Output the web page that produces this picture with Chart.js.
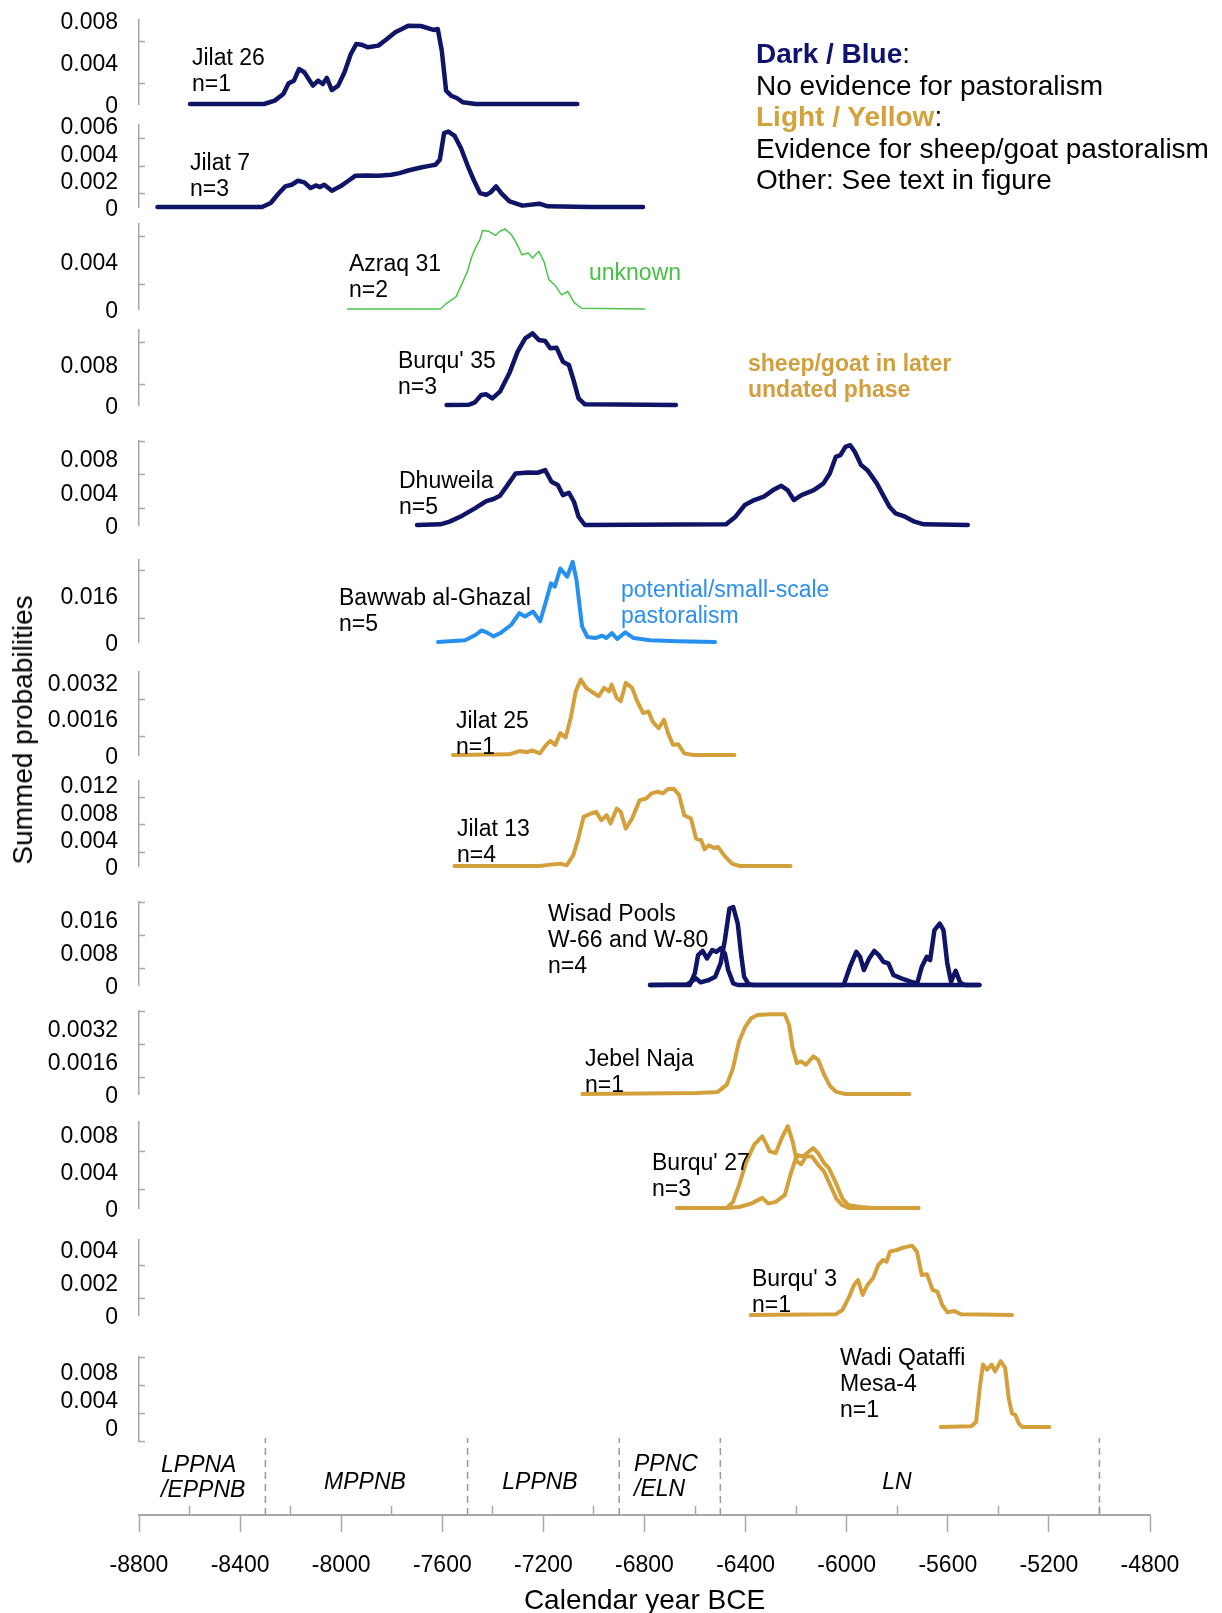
<!DOCTYPE html>
<html>
<head>
<meta charset="utf-8">
<script src="https://cdn.jsdelivr.net/npm/chart.js@4.4.1/dist/chart.umd.min.js"></script>
<style>
    html, body { margin: 0; padding: 0; background: #fff; }
    body { width: 1222px; height: 1613px; position: relative; overflow: hidden; font-family: "Liberation Sans", Arial, sans-serif; color: #000; }
    canvas { position: absolute; left: 0; }
    .lbl { position: absolute; font-size: 23px; line-height: 26px; white-space: nowrap; }
    .period { position: absolute; font-size: 23px; line-height: 25px; font-style: italic; white-space: nowrap; }
    .legend { position: absolute; left: 756px; top: 38px; font-size: 28px; line-height: 31.6px; white-space: nowrap; }
</style>
</head>
<body>

<script>
// ---- summed probability curves (calendar year BCE, probability) ----
const jilat26Years = [-8598, -8305, -8263, -8229, -8208, -8187, -8167, -8146, -8112, -8091, -8073, -8057, -8037, -8012, -7987, -7962, -7940, -7920, -7894, -7853, -7819, -7786, -7760, -7735, -7685, -7635, -7618, -7602, -7585, -7565, -7543, -7518, -7468, -7066];
const jilat26Probs = [0, 0, 0.00032, 0.00095, 0.00197, 0.00222, 0.00333, 0.00302, 0.00175, 0.00222, 0.0019, 0.00248, 0.00133, 0.00175, 0.00302, 0.00476, 0.00572, 0.00565, 0.0054, 0.00556, 0.00619, 0.00683, 0.00714, 0.00746, 0.00743, 0.00705, 0.00714, 0.00508, 0.00127, 0.00079, 0.00057, 0.00016, 0, 0];

const jilat7Years = [-8727, -8313, -8279, -8246, -8221, -8196, -8171, -8146, -8121, -8100, -8084, -8067, -8037, -8003, -7970, -7945, -7903, -7853, -7802, -7769, -7735, -7685, -7652, -7627, -7610, -7593, -7576, -7551, -7526, -7501, -7476, -7451, -7426, -7409, -7387, -7367, -7334, -7283, -7216, -7183, -7016, -6806];
const jilat7Probs = [0, 0, 0.00029, 0.00102, 0.00151, 0.00163, 0.00192, 0.0018, 0.00139, 0.00158, 0.00146, 0.00163, 0.00119, 0.00151, 0.00194, 0.00228, 0.00231, 0.00228, 0.00236, 0.00248, 0.00267, 0.00289, 0.00301, 0.00309, 0.00345, 0.0054, 0.00552, 0.0052, 0.0043, 0.00309, 0.00199, 0.00102, 0.0009, 0.00107, 0.00151, 0.00102, 0.00041, 0.0001, 0.00024, 0.00005, 0, 0];

const azraq31Years = [-7975, -7608, -7583, -7546, -7521, -7501, -7483, -7466, -7451, -7441, -7416, -7389, -7372, -7352, -7327, -7307, -7285, -7260, -7243, -7218, -7198, -7178, -7153, -7128, -7103, -7079, -7049, -6800];
const azraq31Probs = [0, 0, 0.00047, 0.001, 0.00213, 0.00309, 0.00433, 0.00516, 0.00571, 0.00646, 0.0064, 0.00607, 0.0064, 0.0066, 0.00613, 0.00544, 0.00447, 0.00461, 0.0042, 0.00475, 0.00392, 0.0024, 0.00193, 0.00116, 0.00144, 0.00055, 0.00006, 0];

const burqu35Years = [-7583, -7495, -7471, -7446, -7426, -7402, -7372, -7335, -7302, -7272, -7243, -7218, -7193, -7173, -7148, -7123, -7099, -7079, -7061, -7036, -6676];
const burqu35Probs = [0, 0.00005, 0.00051, 0.00192, 0.00205, 0.00128, 0.00256, 0.00608, 0.01024, 0.0128, 0.01376, 0.01248, 0.01229, 0.01088, 0.01101, 0.00832, 0.00768, 0.00448, 0.00128, 0.00013, 0];

const dhuweilaYears = [-7700, -7608, -7571, -7521, -7471, -7426, -7397, -7372, -7342, -7310, -7260, -7223, -7193, -7168, -7143, -7123, -7099, -7079, -7061, -7036, -6477, -6440, -6403, -6366, -6328, -6291, -6259, -6234, -6209, -6179, -6130, -6092, -6067, -6043, -6025, -6005, -5986, -5968, -5943, -5918, -5881, -5856, -5831, -5807, -5769, -5732, -5695, -5521];
const dhuweilaProbs = [0, 0.00008, 0.0004, 0.00111, 0.00198, 0.00285, 0.00309, 0.00348, 0.00475, 0.00614, 0.00626, 0.00622, 0.00653, 0.00515, 0.00475, 0.00356, 0.00384, 0.00277, 0.00099, 0, 0.00008, 0.00099, 0.00238, 0.00297, 0.00337, 0.00416, 0.00467, 0.00416, 0.00297, 0.00356, 0.00416, 0.00495, 0.00614, 0.00812, 0.00832, 0.00931, 0.0095, 0.00871, 0.00713, 0.00653, 0.00495, 0.00356, 0.00218, 0.00139, 0.00099, 0.0004, 0.00008, 0];

const bawwabYears = [-7617, -7510, -7467, -7445, -7424, -7398, -7370, -7327, -7295, -7273, -7241, -7213, -7192, -7170, -7155, -7133, -7106, -7084, -7069, -7047, -7026, -6994, -6968, -6951, -6929, -6908, -6876, -6843, -6779, -6671, -6521];
const bawwabProbs = [0, 0.00056, 0.00244, 0.00389, 0.00322, 0.00189, 0.003, 0.00578, 0.00967, 0.00856, 0.01022, 0.00689, 0.013, 0.01967, 0.01855, 0.02466, 0.02189, 0.02689, 0.02078, 0.00522, 0.00167, 0.00133, 0.00211, 0.00133, 0.003, 0.001, 0.00322, 0.00133, 0.00056, 0.00022, 0];

const jilat25Years = [-7558, -7335, -7295, -7264, -7244, -7214, -7189, -7173, -7153, -7133, -7112, -7092, -7072, -7052, -7031, -7001, -6981, -6960, -6940, -6930, -6910, -6894, -6874, -6849, -6829, -6805, -6784, -6768, -6744, -6723, -6707, -6687, -6667, -6643, -6606, -6444];
const jilat25Probs = [0, 0.00003, 0.00017, 0.00012, 0.0002, 0.00007, 0.00044, 0.00061, 0.00044, 0.00095, 0.00076, 0.0016, 0.00276, 0.00327, 0.00291, 0.00269, 0.00255, 0.00291, 0.00276, 0.00305, 0.00247, 0.00233, 0.00313, 0.00291, 0.00233, 0.00182, 0.00189, 0.00145, 0.00116, 0.00153, 0.00095, 0.00044, 0.00047, 0.00007, 0, 0];

const jilat13Years = [-7552, -7214, -7173, -7133, -7108, -7082, -7062, -7041, -7011, -6991, -6971, -6950, -6934, -6910, -6894, -6874, -6849, -6819, -6793, -6772, -6748, -6727, -6707, -6683, -6663, -6643, -6616, -6596, -6576, -6562, -6545, -6525, -6509, -6485, -6454, -6424, -6222];
const jilat13Probs = [0, 0, 0.0002, 0.00034, 0.0001, 0.00156, 0.004, 0.00717, 0.00766, 0.0079, 0.00668, 0.00741, 0.0062, 0.00839, 0.0079, 0.00546, 0.00693, 0.00961, 0.00985, 0.01059, 0.01083, 0.01059, 0.01122, 0.01122, 0.01034, 0.00741, 0.00693, 0.004, 0.00376, 0.00244, 0.00302, 0.00263, 0.00278, 0.00156, 0.00034, 0, 0];

const wisadAYears = [-6778, -6621, -6601, -6588, -6570, -6553, -6532, -6515, -6499, -6482, -6469, -6449, -6431, -5475];
const wisadAProbs = [0, 0, 0.0028, 0.0072, 0.0082, 0.0064, 0.0084, 0.008, 0.0088, 0.0076, 0.0036, 0.0004, 0, 0];
const wisadBYears = [-6778, -6634, -6614, -6596, -6578, -6545, -6520, -6499, -6482, -6464, -6449, -6431, -6418, -6406, -6388, -6368, -6012, -5987, -5962, -5947, -5932, -5911, -5891, -5873, -5855, -5835, -5815, -5784, -5747, -5721, -5703, -5683, -5670, -5653, -5632, -5617, -5602, -5587, -5569, -5551, -5531, -5475];
const wisadBProbs = [0, 0.0001, 0.0008, 0.0016, 0.00064, 0.0012, 0.002, 0.0052, 0.0108, 0.0184, 0.0188, 0.0148, 0.0076, 0.002, 0.00016, 0, 0, 0.0044, 0.008, 0.0068, 0.0036, 0.0064, 0.0082, 0.0072, 0.0056, 0.0052, 0.0024, 0.0016, 0.0008, 0.0004, 0.0044, 0.0068, 0.006, 0.0132, 0.0148, 0.0132, 0.0052, 0.0008, 0.0034, 0.00056, 0, 0];

const jebelNajaYears = [-7046, -6594, -6510, -6474, -6450, -6426, -6401, -6378, -6353, -6305, -6245, -6228, -6214, -6197, -6180, -6161, -6132, -6113, -6089, -6065, -6041, -6005, -5752];
const jebelNajaProbs = [0, 0.00005, 0.0001, 0.00045, 0.00125, 0.00253, 0.00325, 0.00365, 0.00381, 0.00384, 0.00384, 0.00333, 0.00221, 0.00149, 0.00157, 0.00141, 0.00181, 0.00165, 0.00093, 0.00037, 0.0001, 0, 0];

const burqu27AYears = [-6671, -6474, -6450, -6426, -6397, -6366, -6334, -6317, -6305, -6281, -6257, -6233, -6214, -6197, -6180, -6161, -6137, -6113, -6089, -6065, -6041, -6017, -5993, -5716];
const burqu27AProbs = [0, 0, 0.00065, 0.00245, 0.00497, 0.00677, 0.00767, 0.00677, 0.00605, 0.00587, 0.00749, 0.00875, 0.00713, 0.00497, 0.00468, 0.00551, 0.00551, 0.00461, 0.00389, 0.00245, 0.00101, 0.00029, 0, 0];
const burqu27BYears = [-6671, -6474, -6426, -6378, -6334, -6310, -6281, -6245, -6221, -6197, -6173, -6149, -6132, -6113, -6089, -6070, -6045, -6017, -5993, -5945, -5897, -5716];
const burqu27BProbs = [0, 0, 0.00011, 0.00047, 0.00108, 0.00047, 0.00065, 0.00137, 0.00371, 0.00569, 0.00551, 0.00605, 0.00641, 0.00587, 0.00479, 0.00425, 0.00281, 0.00101, 0.00029, 0.00011, 0, 0];

const burqu3Years = [-6380, -6044, -6017, -5990, -5971, -5955, -5937, -5918, -5896, -5875, -5856, -5842, -5829, -5802, -5776, -5741, -5722, -5703, -5682, -5660, -5641, -5622, -5601, -5574, -5547, -5346];
const burqu3Probs = [0, 0.00004, 0.0003, 0.0011, 0.0018, 0.0021, 0.0012, 0.0018, 0.0022, 0.003, 0.0033, 0.0032, 0.0038, 0.0039, 0.00404, 0.00416, 0.0038, 0.0024, 0.00244, 0.0015, 0.0014, 0.0006, 0.00016, 0.00024, 0.00004, 0];

const qataffiYears = [-5628, -5507, -5488, -5472, -5461, -5445, -5426, -5413, -5391, -5373, -5359, -5346, -5332, -5319, -5305, -5198];
const qataffiProbs = [0, 0.0001, 0.00072, 0.00603, 0.00892, 0.00819, 0.00892, 0.00795, 0.0094, 0.00844, 0.0041, 0.00193, 0.00169, 0.00048, 0, 0];

// ---- y scales of the 13 panels ----
const panelMin = [0, 0, 0, 0, 0, 0, 0, 0, 0, 0, 0, 0, -0.002];
const panelMax = [0.008, 0.006, 0.007, 0.0144, 0.010, 0.0275, 0.0036, 0.0124, 0.02, 0.004, 0.0092, 0.0045, 0.01];
const panelMajor = [0.004, 0.002, 0.004, 0.008, 0.004, 0.016, 0.0016, 0.004, 0.008, 0.0016, 0.004, 0.002, 0.004];
const panelMinor = [0.002, 0.001, 0.002, 0.004, 0.002, 0.008, 0.0008, 0.002, 0.004, 0.0008, 0.002, 0.001, 0.002];

// ---- x axis and period boundaries ----
const yearMin = -8800;
const yearMax = -4800;
const periodBounds = [-8300, -7500, -6900, -6500, -5000];

// colours
const NAVY = '#101466';
const GOLD = '#d4a03c';
const BLUE = '#2690ee';
const GREEN = '#4cc44c';
const GREY = '#a8a8a8';
const FONT = '"Liberation Sans", Arial, sans-serif';

// page geometry
const PAGE_W = 1222;
const X_LEFT = 139;
const X_RIGHT = 1150;
const PAD = 42;   // must exceed half a tick label + tick padding

// pixel rows (top = max value, bottom = min value) of each panel
const panelRows = [
    [20, 104], [125, 207], [224, 309], [330, 405], [441, 525], [560, 642], [672, 755],
    [781, 866], [902, 985], [1011, 1094], [1122, 1208], [1240, 1315], [1357, 1441]
];

const panelSeries = [
    [[jilat26Years, jilat26Probs, NAVY, 4.5]],
    [[jilat7Years, jilat7Probs, NAVY, 4.5]],
    [[azraq31Years, azraq31Probs, GREEN, 1.5]],
    [[burqu35Years, burqu35Probs, NAVY, 4.5]],
    [[dhuweilaYears, dhuweilaProbs, NAVY, 4.5]],
    [[bawwabYears, bawwabProbs, BLUE, 4]],
    [[jilat25Years, jilat25Probs, GOLD, 4]],
    [[jilat13Years, jilat13Probs, GOLD, 4]],
    [[wisadAYears, wisadAProbs, NAVY, 4.5], [wisadBYears, wisadBProbs, NAVY, 4.5]],
    [[jebelNajaYears, jebelNajaProbs, GOLD, 4]],
    [[burqu27AYears, burqu27AProbs, GOLD, 4], [burqu27BYears, burqu27BProbs, GOLD, 4]],
    [[burqu3Years, burqu3Probs, GOLD, 4]],
    [[qataffiYears, qataffiProbs, GOLD, 4]]
];

function isMajor(v, step) {
    const r = v / step;
    return Math.abs(r - Math.round(r)) < 1e-6;
}

function fmtTick(v) {
    const s = parseFloat(v.toFixed(6));
    return s === 0 ? '0' : String(s);
}

function addCanvas(top, height) {
    const c = document.createElement('canvas');
    c.width = PAGE_W;
    c.height = height;
    c.style.top = top + 'px';
    document.body.appendChild(c);
    return c;
}

function makePanel(i) {
    const [top, bottom] = panelRows[i];
    const canvas = addCanvas(top - PAD, bottom - top + 2 * PAD);
    const major = panelMajor[i];

    const datasets = panelSeries[i].map(([years, probs, color, width]) => ({
        data: years.map((yr, k) => ({ x: yr, y: probs[k] })),
        borderColor: color,
        borderWidth: width,
        pointRadius: 0,
        tension: 0,
        fill: false,
        clip: false,
        borderJoinStyle: 'round',
        borderCapStyle: 'round'
    }));

    new Chart(canvas, {
        type: 'line',
        data: { datasets: datasets },
        options: {
            responsive: false,
            animation: false,
            events: [],
            layout: { padding: { left: 0, right: PAGE_W - X_RIGHT, top: PAD, bottom: PAD } },
            plugins: { legend: { display: false }, tooltip: { enabled: false } },
            scales: {
                x: { type: 'linear', min: yearMin, max: yearMax, display: false },
                y: {
                    min: panelMin[i],
                    max: panelMax[i],
                    afterFit: s => { s.width = X_LEFT; },
                    border: { color: GREY, width: 1.5 },
                    grid: {
                        drawOnChartArea: false,
                        tickLength: -6,
                        tickWidth: 1.5,
                        tickColor: ctx => isMajor(ctx.tick.value, major) ? 'rgba(0,0,0,0)' : GREY
                    },
                    ticks: {
                        stepSize: panelMinor[i],
                        includeBounds: false,
                        autoSkip: false,
                        padding: 27,
                        labelOffset: 3,
                        color: '#000',
                        font: { family: FONT, size: 23 },
                        callback: v => isMajor(v, major) ? fmtTick(v) : ''
                    }
                }
            }
        }
    });
}

function makeTimeline() {
    const top = 1418;
    const canvas = addCanvas(top, 1620 - top);
    const axisY = 1515;

    const datasets = periodBounds.map(b => ({
        data: [{ x: b, y: 0 }, { x: b, y: 1 }],
        xAxisID: 'x',
        borderColor: '#9a9a9a',
        borderWidth: 1.5,
        borderDash: [7, 5],
        pointRadius: 0,
        fill: false
    }));

    new Chart(canvas, {
        type: 'line',
        data: { datasets: datasets },
        options: {
            responsive: false,
            animation: false,
            events: [],
            layout: { padding: { left: X_LEFT, right: PAGE_W - X_RIGHT, top: 20, bottom: 0 } },
            plugins: { legend: { display: false }, tooltip: { enabled: false } },
            scales: {
                x: {
                    type: 'linear', position: 'bottom', weight: 1,
                    min: yearMin, max: yearMax,
                    afterFit: s => { s.height = 1620 - axisY; },
                    border: { color: GREY, width: 2 },
                    grid: { drawOnChartArea: false, tickLength: 17, tickWidth: 1.5, color: GREY },
                    ticks: {
                        stepSize: 400, autoSkip: false, maxRotation: 0, padding: 20,
                        color: '#000', font: { family: FONT, size: 23 },
                        callback: v => String(v)
                    },
                    title: {
                        display: true, text: 'Calendar year BCE', color: '#000',
                        font: { family: FONT, size: 28 }, padding: { top: 0, bottom: 2 }
                    }
                },
                xMinor: {
                    type: 'linear', position: 'bottom', weight: 0,
                    min: yearMin, max: yearMax,
                    afterFit: s => { s.height = 0; },
                    border: { display: false },
                    grid: {
                        drawOnChartArea: false, tickLength: -9, tickWidth: 1.5,
                        tickColor: ctx => isMajor(ctx.tick.value, 400) ? 'rgba(0,0,0,0)' : GREY
                    },
                    ticks: { display: false, stepSize: 200, autoSkip: false }
                },
                y: { min: 0, max: 1, display: false }
            }
        }
    });
}

for (let i = 0; i < panelRows.length; i++) {
    makePanel(i);
}
makeTimeline();
</script>

<!-- y axis title -->
<div style="position:absolute; left:23px; top:730px; transform:translate(-50%,-50%) rotate(-90deg); font-size:28px; white-space:nowrap;">Summed probabilities</div>

<!-- legend -->
<div class="legend">
    <span style="color:#10136e; font-weight:bold;">Dark / Blue</span>:<br>
    No evidence for pastoralism<br>
    <span style="color:#d4a23c; font-weight:bold;">Light / Yellow</span>:<br>
    Evidence for sheep/goat pastoralism<br>
    Other: See text in figure
</div>

<!-- panel labels -->
<div class="lbl" style="left:192px; top:44px;">Jilat 26<br>n=1</div>
<div class="lbl" style="left:190px; top:149px;">Jilat 7<br>n=3</div>
<div class="lbl" style="left:349px; top:250px;">Azraq 31<br>n=2</div>
<div class="lbl" style="left:589px; top:259px; color:#46c046;">unknown</div>
<div class="lbl" style="left:398px; top:347px;">Burqu' 35<br>n=3</div>
<div class="lbl" style="left:748px; top:350px; color:#d0a040; font-weight:bold;">sheep/goat in later<br>undated phase</div>
<div class="lbl" style="left:399px; top:467px;">Dhuweila<br>n=5</div>
<div class="lbl" style="left:339px; top:584px;">Bawwab al-Ghazal<br>n=5</div>
<div class="lbl" style="left:621px; top:576px; color:#2b8ef0;">potential/small-scale<br>pastoralism</div>
<div class="lbl" style="left:456px; top:707px;">Jilat 25<br>n=1</div>
<div class="lbl" style="left:457px; top:815px;">Jilat 13<br>n=4</div>
<div class="lbl" style="left:548px; top:900px;">Wisad Pools<br>W-66 and W-80<br>n=4</div>
<div class="lbl" style="left:585px; top:1045px;">Jebel Naja<br>n=1</div>
<div class="lbl" style="left:652px; top:1149px;">Burqu' 27<br>n=3</div>
<div class="lbl" style="left:752px; top:1265px;">Burqu' 3<br>n=1</div>
<div class="lbl" style="left:840px; top:1344px;">Wadi Qataffi<br>Mesa-4<br>n=1</div>

<!-- periods -->
<div class="period" style="left:161px; top:1452px;">LPPNA<br>/EPPNB</div>
<div class="period" style="left:365px; top:1469px; transform:translateX(-50%);">MPPNB</div>
<div class="period" style="left:540px; top:1469px; transform:translateX(-50%);">LPPNB</div>
<div class="period" style="left:634px; top:1451px;">PPNC<br>/ELN</div>
<div class="period" style="left:897px; top:1469px; transform:translateX(-50%);">LN</div>

</body>
</html>
